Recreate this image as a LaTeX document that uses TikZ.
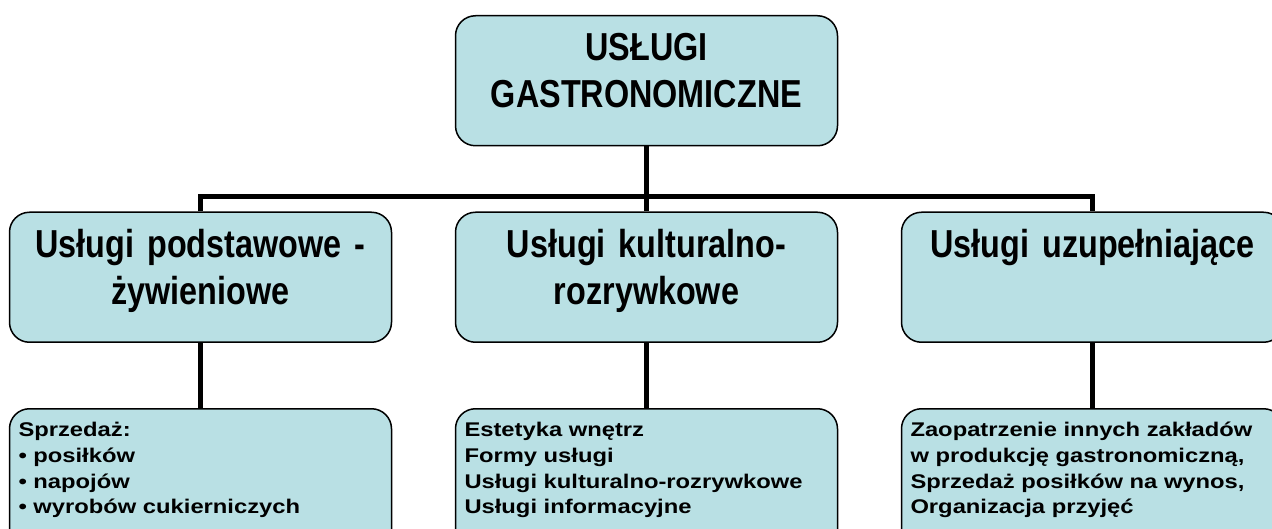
\documentclass[tikz,border=0pt]{standalone}
\usepackage{fontspec}
\setmainfont{Liberation Sans}
\newfontfamily\headfont[FakeStretch=0.83, WordSpace=0.8]{Liberation Sans}
\newfontfamily\listfont[FakeStretch=1.2]{Liberation Sans}
\usetikzlibrary{positioning}
\definecolor{boxfill}{RGB}{185,224,228}
\tikzstyle{tier} = [rectangle, rounded corners=20pt, draw=black, line width=1.5pt, fill=boxfill, minimum width=382pt, text width=364pt, align=center, inner xsep=9pt, inner ysep=5pt, text height=40pt, text depth=80pt, font=\headfont\bfseries\fontsize{39}{47}\selectfont]
\tikzstyle{items} = [tier, align=left, text height=23pt, text depth=150pt, font=\listfont\bfseries\fontsize{19.8}{25.7}\selectfont]
\tikzstyle{link} = [line width=5pt]

\begin{document}
\begin{tikzpicture}[x=1pt, y=1pt]
    \useasboundingbox (0,0) rectangle (1272,528);
    \node (services) [tier, anchor=north] at (646.5,513) {USŁUGI\\GASTRONOMICZNE};
    \coordinate [below=50pt of services] (bar);
    \node (cultural) [tier, below=65pt of services] {Usługi kulturalno-\\rozrywkowe};
    \node (basic) [tier, below=65pt of services, xshift=-446pt] {Usługi podstawowe -\\żywieniowe};
    \node (extra) [tier, below=65pt of services, xshift=446pt] {Usługi uzupełniające};
    \node (basicitems) [items, below=65pt of basic] {Sprzedaż:\\• posiłków\\• napojów\\• wyrobów cukierniczych};
    \node (culturalitems) [items, below=65pt of cultural] {Estetyka wnętrz\\Formy usługi\\Usługi kulturalno-rozrywkowe\\Usługi informacyjne};
    \node (extraitems) [items, below=65pt of extra] {Zaopatrzenie innych zakładów\\w produkcję gastronomiczną,\\Sprzedaż posiłków na wynos,\\Organizacja przyjęć};
    \draw [link] (services) -- (cultural);
    \draw [link] (basic.north) |- (bar) -| (extra.north);
    \draw [link] (basic) -- (basicitems);
    \draw [link] (cultural) -- (culturalitems);
    \draw [link] (extra) -- (extraitems);
\end{tikzpicture}
\end{document}
